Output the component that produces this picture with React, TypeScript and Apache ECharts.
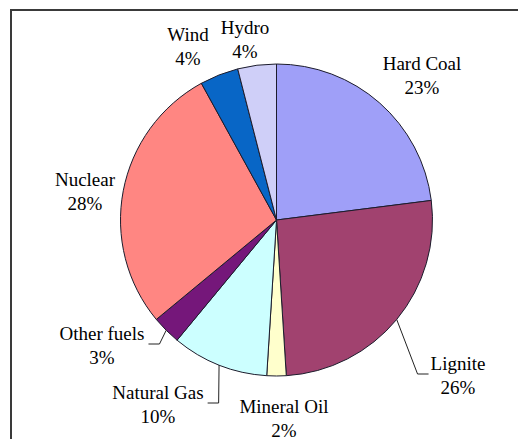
import React, { useEffect, useRef } from "react";
import * as echarts from "echarts";

const categories = ["Hard Coal", "Lignite", "Mineral Oil", "Natural Gas", "Other fuels", "Nuclear", "Wind", "Hydro"];
const shares = [23, 26, 2, 10, 3, 28, 4, 4];

const sliceColors = ["#9f9ff8", "#a1426f", "#ffffcc", "#ccffff", "#75177a", "#ff8682", "#0866c6", "#cfcff8"];
// label block centres (layout only)
const labelCenters: number[][] = [
  [422, 75], [458, 375], [284, 418], [158, 404], [102, 345], [85, 191], [188, 46], [245, 39],
];
// side of the label the leader line attaches to
const leaderSide: (string | null)[] = [null, "left", null, "right", "right", null, null, null];

export default function App() {
  const ref = useRef<HTMLDivElement>(null);
  useEffect(() => {
    document.body.style.margin = "0";
    if (!ref.current) return;
    const chart = echarts.init(ref.current, undefined, { renderer: "svg" });
    const cx = 276.5, cy = 220, r = 156;
    chart.setOption({
      animation: false,
      backgroundColor: "#ffffff",
      graphic: [
        {
          type: "rect",
          shape: { x: 11, y: 10, width: 600, height: 500 },
          style: { fill: "none", stroke: "#3a3a3a", lineWidth: 2 },
          silent: true,
        },
      ],
      series: [
        {
          type: "pie",
          center: [cx, cy],
          radius: [0, r],
          startAngle: 90,
          clockwise: true,
          avoidLabelOverlap: false,
          itemStyle: { borderColor: "#1c1c2c", borderWidth: 1 },
          label: {
            show: true,
            position: "outside",
            formatter: (p: any) => `${p.name}\n${p.value}%`,
            fontFamily: "Liberation Serif",
            fontSize: 19,
            lineHeight: 24,
            color: "#000000",
            align: "center",
          },
          labelLine: {
            show: true,
            length: 10,
            length2: 10,
            lineStyle: { color: "#222222", width: 1 },
          },
          labelLayout: (params: any) => {
            const i = params.dataIndex;
            const [lx, ly] = labelCenters[i];
            const w = params.labelRect.width;
            const out: any = { x: lx, y: ly, align: "center", verticalAlign: "middle" };
            const side = leaderSide[i];
            if (side && params.labelLinePoints) {
              const p0 = params.labelLinePoints[0];
              const ey = ly - 1;
              let ex: number, bx: number;
              if (side === "left") {
                ex = lx - w / 2 - 2;
                bx = ex - 11;
              } else {
                ex = lx + w / 2 + 4;
                bx = ex + 11;
              }
              out.labelLinePoints = [[p0[0], p0[1]], [bx, ey], [ex, ey]];
            }
            return out;
          },
          data: categories.map((name, i) => ({
            name,
            value: shares[i],
            itemStyle: { color: sliceColors[i] },
            labelLine: { show: leaderSide[i] !== null },
          })),
        },
      ],
    });
    return () => chart.dispose();
  }, []);
  return <div ref={ref} style={{ width: 518, height: 439 }} />;
}
